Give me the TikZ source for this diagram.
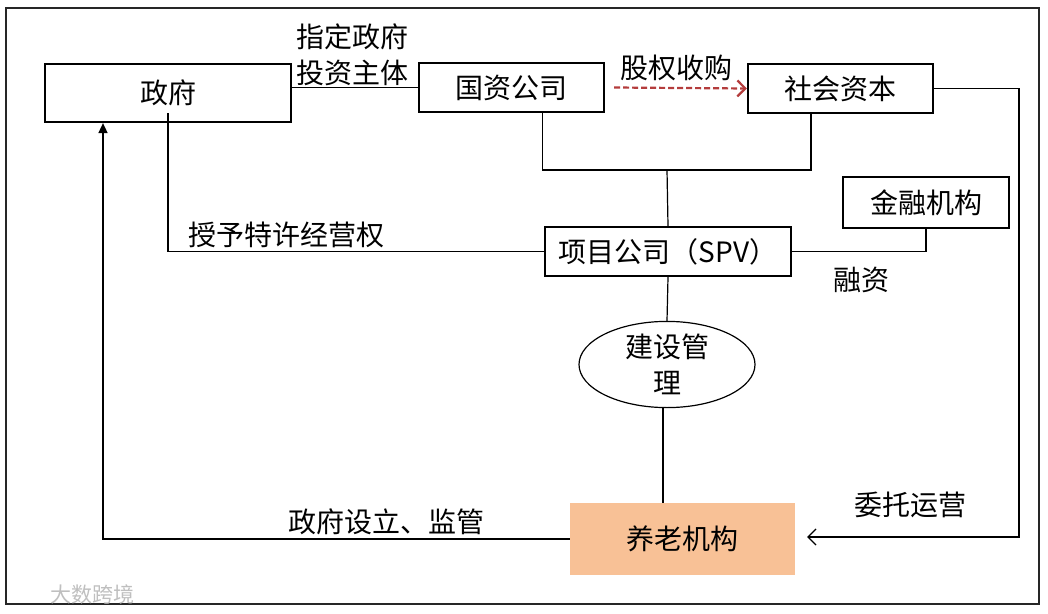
\documentclass[tikz,border=0pt]{standalone}
\usepackage{fontspec}
\newfontfamily\cjk{Noto Sans CJK SC}
\usetikzlibrary{arrows.meta,shapes.geometric}
\definecolor{dashred}{RGB}{180,60,60}
\definecolor{peach}{RGB}{248,193,150}
\begin{document}
\begin{tikzpicture}[x=1pt, y=-1pt,
        every node/.style={font=\cjk\fontsize{28}{36}\selectfont, inner sep=0pt},
        entity/.style={draw=black, line width=2.2pt, rectangle},
        link/.style={line width=1.2pt},
        tag/.style={align=center}]
        \useasboundingbox (0, 0) rectangle (1048, 613);
        \draw[line width=1.4pt, black!85] (6, 8) rectangle (1039, 604);

        \node[entity, minimum width=246pt, minimum height=58pt] (gov) at (168, 93) {政府\hspace{58pt}};
        \node[entity, minimum width=185pt, minimum height=49pt] (soe) at (511.5, 87.5) {国资公司};
        \node[entity, minimum width=185pt, minimum height=49pt] (cap) at (840.5, 88.5) {社会资本};
        \node[entity, minimum width=166pt, minimum height=51pt] (fin) at (926, 202.5) {金融机构};
        \node[entity, minimum width=246pt, minimum height=49pt] (spv) at (668, 251.5) {项目公司（SPV）};
        \node[ellipse, draw=black, line width=1.2pt, minimum width=176pt, minimum height=77pt, align=center] (mgmt) at (667, 364.5) {建设管\\理};
        \node[fill=peach, minimum width=225pt, minimum height=72pt] (care) at (682.5, 539) {养老机构};

        \coordinate (join) at (667, 170);
        \coordinate (rturn) at (1019, 537);

        \draw[link] (gov.east |- soe.west) -- (soe.west);
        \draw[dashred, line width=2.2pt, dash pattern=on 6pt off 3pt, -{Straight Barb[length=8pt, width=16pt]}] ([xshift=9pt]soe.east) -- (cap.west);
        \draw[link] ([xshift=31pt]soe.south) |- (join) -| ([xshift=-29.5pt]cap.south);
        \draw[link] (join) -- (spv.north);
        \draw[link] ([yshift=-20pt]gov.center) |- (spv.west);
        \draw[link] (spv.east) -| (fin.south);
        \draw[link] (spv.south) -- (mgmt.north);
        \draw[link] ([xshift=-4pt]mgmt.south) -- ([xshift=-4pt]mgmt.south |- care.north);
        \draw[link, -{Straight Barb[length=8pt, width=16pt]}, shorten >=12pt] (cap.east) -| (rturn) -- (rturn -| care.east);
        \draw[link, line width=1.6pt, -{Triangle[length=10pt, width=9pt]}] (care.west) -| ([xshift=-65pt]gov.south);

        \node[tag] (investlbl) at (352, 55) {指定政府\\投资主体};
        \node[tag] (buylbl) at (676, 68) {股权收购};
        \node[tag] (grantlbl) at (286, 235) {授予特许经营权};
        \node[tag] (loanlbl) at (861, 280) {融资};
        \node[tag] (operlbl) at (910, 505) {委托运营};
        \node[tag] (superlbl) at (386, 522) {政府设立、监管};
        \node[tag, font=\cjk\fontsize{21}{24}\selectfont, text=black!25] (marklbl) at (92, 594) {大数跨境};
    \end{tikzpicture}
\end{document}
